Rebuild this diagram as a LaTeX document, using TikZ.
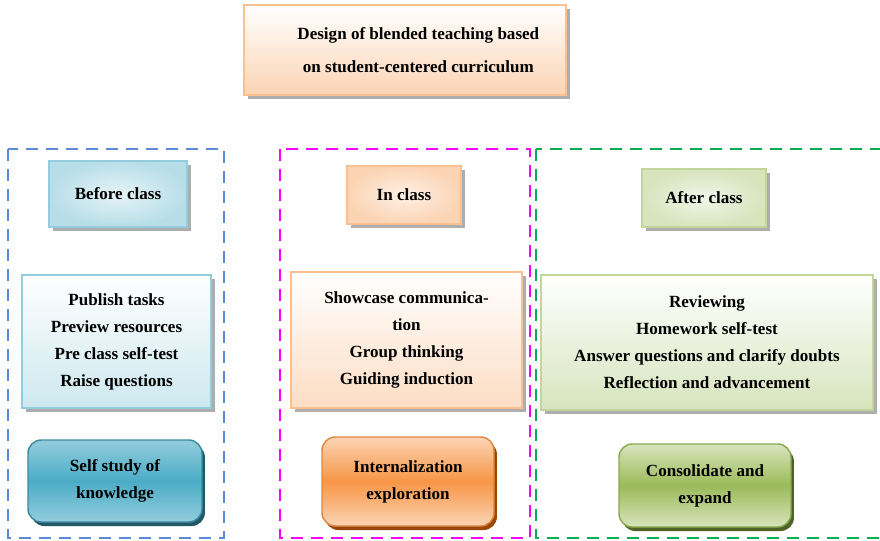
\documentclass[tikz,border=0pt]{standalone}
\usepackage{fontspec}
\setmainfont{Liberation Serif}
\usetikzlibrary{shadows,positioning}
\definecolor{peach}{RGB}{251,212,180}
\definecolor{peachline}{RGB}{250,192,144}
\definecolor{skyfill}{RGB}{183,222,232}
\definecolor{skyline}{RGB}{147,205,221}
\definecolor{teal}{RGB}{75,172,198}
\definecolor{tealdark}{RGB}{33,89,103}
\definecolor{orangemid}{RGB}{247,150,70}
\definecolor{orangedark}{RGB}{152,72,7}
\definecolor{leaf}{RGB}{215,228,189}
\definecolor{leafline}{RGB}{194,214,155}
\definecolor{greenmid}{RGB}{155,187,89}
\definecolor{greendark}{RGB}{79,98,40}
\definecolor{blueframe}{RGB}{90,138,216}
\definecolor{pinkframe}{RGB}{255,0,255}
\definecolor{greenframe}{RGB}{0,176,80}

\begin{document}
\begin{tikzpicture}[x=0.75pt,y=-0.75pt,
    txt/.style={align=center,font=\bfseries\fontsize{12.8}{20.25}\selectfont,inner sep=2pt},
    flatbox/.style={txt,draw=#1,line width=1.1pt,
                    drop shadow={shadow xshift=2.8pt,shadow yshift=-2.8pt,fill=black!40,opacity=0.8}},
    roundbox/.style={txt,draw=#1,line width=1.1pt,rounded corners=10pt,
                    drop shadow={shadow xshift=2.2pt,shadow yshift=-3pt,fill=#1,opacity=1}},
    frame/.style={draw=#1,line width=1.5pt,dash pattern=on 9pt off 6pt}
  ]
    \useasboundingbox (0,0) rectangle (880,541);
    % phase frames
    \draw[frame=blueframe] (8,149) rectangle (224,538);
    \draw[frame=pinkframe] (280,149) rectangle (530,538);
    \draw[frame=greenframe] (536,149) rectangle (890,538);
    % title
    \node[flatbox=peachline,top color=white,bottom color=peach,
          minimum width=241.5pt,minimum height=67.5pt,
          font=\bfseries\fontsize{12.8}{25}\selectfont] (design) at (405,50)
          {\hspace*{20pt}Design of blended teaching based\\\hspace*{20pt}on student-centered curriculum};
    % before class
    \node[flatbox=skyline,inner color=skyfill!35,outer color=skyfill,
          minimum width=103.5pt,minimum height=49.5pt] (before) at (118,194) {Before class};
    \node[flatbox=skyline,top color=white,bottom color=skyfill!70,
          minimum width=141.75pt,minimum height=99.75pt] (beforetasks) at (116.5,341.5)
          {Publish tasks\\Preview resources\\Pre class self-test\\Raise questions};
    \node[roundbox=tealdark,draw=teal!80!black,top color=skyline,bottom color=skyline,middle color=teal,
          minimum width=130.5pt,minimum height=61.5pt] (selfstudy) at (115,481)
          {Self study of\\knowledge};
    % in class
    \node[flatbox=peachline,inner color=peach!35,outer color=peach,
          minimum width=85.5pt,minimum height=43.5pt] (inclass) at (404,195) {In class};
    \node[flatbox=peachline,top color=white,bottom color=peach!80,
          minimum width=173.25pt,minimum height=102pt] (inclasstasks) at (406.5,340)
          {Showcase communica-\\tion\\Group thinking\\Guiding induction};
    \node[roundbox=orangedark,draw=orangemid!90!black,top color=peach,bottom color=peach,middle color=orangemid,
          minimum width=129pt,minimum height=66.75pt] (internal) at (408,481.5)
          {Internalization\\exploration};
    % after class
    \node[flatbox=leafline,inner color=leaf!35,outer color=leaf,
          minimum width=93pt,minimum height=43.5pt] (after) at (704,198) {After class};
    \node[flatbox=leafline,top color=white,bottom color=leaf,
          minimum width=249pt,minimum height=101.25pt] (aftertasks) at (707,342.5)
          {Reviewing\\Homework self-test\\Answer questions and clarify doubts\\Reflection and advancement};
    \node[roundbox=greendark,draw=greenmid!90!black,top color=leaf,bottom color=leaf,middle color=greenmid,
          minimum width=129pt,minimum height=62.25pt] (consolidate) at (705,485.5)
          {Consolidate and\\expand};
  \end{tikzpicture}
\end{document}
